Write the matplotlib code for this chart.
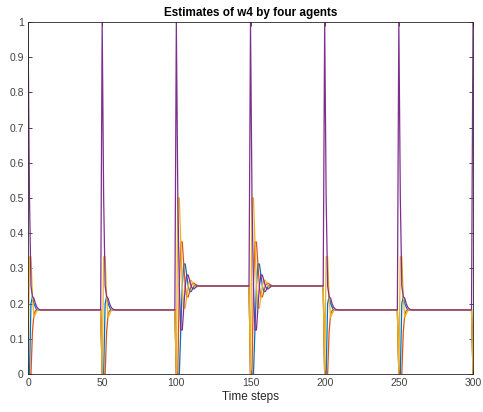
import numpy as np
import matplotlib
matplotlib.use('Agg')
import matplotlib.pyplot as plt

plt.rcParams['font.family'] = ['Liberation Sans', 'DejaVu Sans']

# reset times and which consensus pattern follows each reset
resets = [0, 50, 100, 150, 200, 250, 300]
pattern = ['A', 'A', 'B', 'B', 'A', 'A']
period = 50

# transients (agent 1..4 = blue, orange, yellow, purple)
trans_A = {
    1: [0, 0, 0.20, 0.22, 0.20, 0.19, 0.18, 0.182],
    2: [0, 0, 0, 0.12, 0.17, 0.18, 0.181, 0.182],
    3: [0, 0.333, 0.333, 0.22, 0.16, 0.17, 0.18, 0.183, 0.182],
    4: [1, 0.5, 0.25, 0.22, 0.215, 0.20, 0.19, 0.185, 0.183, 0.182],
}
steady_A = 0.182

trans_B = {
    1: [0, 0, 0, 0.125, 0.25, 0.3125, 0.3125, 0.281, 0.25, 0.234, 0.234, 0.242, 0.25, 0.254, 0.252, 0.25],
    2: [0, 0, 0.25, 0.375, 0.375, 0.3125, 0.25, 0.219, 0.219, 0.234, 0.25, 0.258, 0.258, 0.254, 0.25],
    3: [0, 0.5, 0.5, 0.375, 0.25, 0.1875, 0.1875, 0.219, 0.25, 0.266, 0.266, 0.258, 0.25, 0.246, 0.248, 0.25],
    4: [1, 0.5, 0.25, 0.125, 0.125, 0.1875, 0.25, 0.281, 0.281, 0.266, 0.25, 0.242, 0.242, 0.246, 0.25],
}
steady_B = 0.25

# final reset at t=300
end_vals = {1: 0, 2: 0, 3: 0, 4: 1}

colors = {1: '#0072BD', 2: '#D95319', 3: '#EDB120', 4: '#7E2F8E'}

t = np.arange(0, 301)
series = {}
for a in [1, 2, 3, 4]:
    vals = []
    for p in pattern:
        tr = trans_A[a] if p == 'A' else trans_B[a]
        st = steady_A if p == 'A' else steady_B
        vals += tr + [st] * (period - len(tr))
    vals.append(end_vals[a])
    series[a] = np.array(vals)

fig = plt.figure(figsize=(4.83, 4.12), dpi=100)
ax = fig.add_axes([28/483, 38/412, 445/483, 352/412])
for a in [1, 2, 3, 4]:
    ax.plot(t, series[a], color=colors[a], lw=0.9)

ax.set_xlim(0, 300)
ax.set_ylim(0, 1)
ax.set_xticks(resets)
ax.set_yticks(np.arange(0, 1.01, 0.1))
ax.set_yticklabels(['0', '0.1', '0.2', '0.3', '0.4', '0.5', '0.6', '0.7', '0.8', '0.9', '1'])
ax.tick_params(direction='in', top=True, right=True, length=3, width=0.6,
               labelsize=7.5, colors='#262626', labelcolor='#404040', pad=3)
for s in ax.spines.values():
    s.set_color('#262626')
    s.set_linewidth(0.6)
ax.set_xlabel('Time steps', fontsize=8.5, color='#262626', labelpad=2)
ax.set_title('Estimates of w4 by four agents', fontsize=8.5, fontweight='bold', pad=4)

fig.savefig('out.png', dpi=100)
